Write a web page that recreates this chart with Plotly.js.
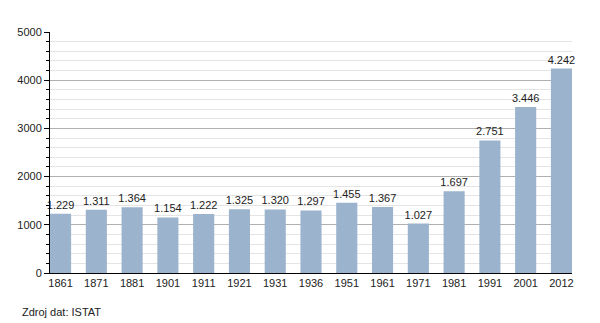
<!DOCTYPE html>
<html>
<head>
<meta charset="utf-8">
<script src="https://cdn.plot.ly/plotly-3.0.1.min.js"></script>
<style>html,body{margin:0;padding:0;background:#fff;}#chart{width:600px;height:323px;}</style>
</head>
<body>
<div id="chart"></div>
<script>
var years = ["1861","1871","1881","1901","1911","1921","1931","1936","1951","1961","1971","1981","1991","2001","2012"];
var population = [1229,1311,1364,1154,1222,1325,1320,1297,1455,1367,1027,1697,2751,3446,4242];
var sourceText = "Zdroj dat: ISTAT";

function fmt(v){ return String(v).replace(/\B(?=(\d{3})+(?!\d))/g, "."); }
var labels = population.map(fmt);
var xs = years.map(function(_, i){ return i; });
var bw = 0.59;

var trace = {
  type: "bar",
  x: xs,
  y: population,
  width: bw,
  text: labels,
  textposition: "outside",
  constraintext: "none",
  cliponaxis: false,
  textfont: {family: "Liberation Sans, Arial, sans-serif", size: 11, color: "#222"},
  marker: {color: "#9bb3cd", line: {width: 0}},
  hoverinfo: "none"
};

var layout = {
  width: 600, height: 323,
  margin: {l: 50, r: 28, t: 32, b: 50},
  paper_bgcolor: "#fff", plot_bgcolor: "#fff",
  showlegend: false,
  font: {family: "Liberation Sans, Arial, sans-serif", size: 11, color: "#222"},
  xaxis: {
    tickmode: "array", tickvals: xs, ticktext: years,
    range: [-bw/2, years.length - 1 + bw/2],
    showgrid: false, zeroline: false,
    showline: true, linecolor: "#000", linewidth: 1,
    ticks: "", tickfont: {size: 11, color: "#222"}
  },
  yaxis: {
    range: [0, 5000], dtick: 1000, tick0: 0,
    showgrid: true, gridcolor: "#b0b0b0", gridwidth: 1,
    zeroline: false,
    showline: true, linecolor: "#000", linewidth: 1,
    ticks: "outside", ticklen: 5, tickcolor: "#000",
    tickfont: {size: 11, color: "#222"},
    minor: {dtick: 200, showgrid: true, gridcolor: "#e4e4e4", gridwidth: 1, ticks: "outside", ticklen: 3, tickcolor: "#000"}
  },
  annotations: [{
    text: sourceText, xref: "paper", yref: "paper",
    x: -0.058, y: -0.162, xanchor: "left", yanchor: "middle",
    showarrow: false, font: {size: 11, color: "#222"}
  }]
};

Plotly.newPlot("chart", [trace], layout, {staticPlot: true, displayModeBar: false});
</script>
</body>
</html>
